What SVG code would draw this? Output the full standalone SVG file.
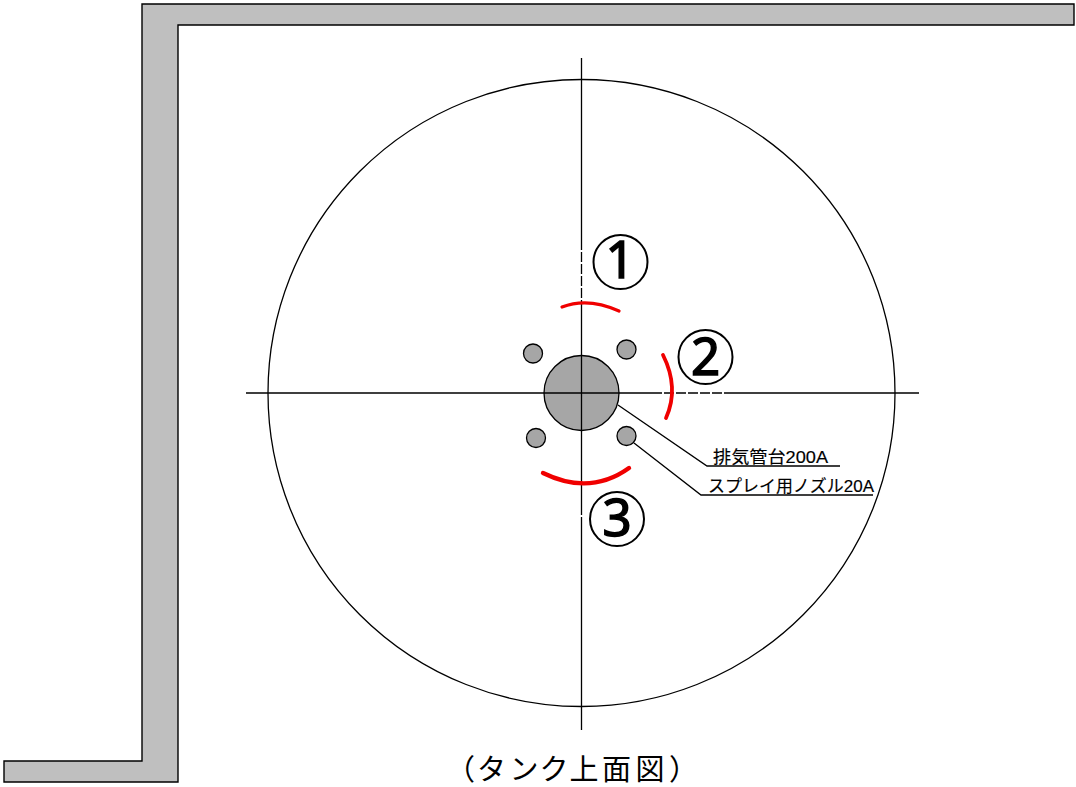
<svg xmlns="http://www.w3.org/2000/svg" width="1076" height="787" viewBox="0 0 1076 787">
<style>
.ln{fill:none;stroke:#000;stroke-width:1.3}
.pipe{fill:#a6a6a6;stroke:#000;stroke-width:1.3}
.red{fill:none;stroke:#f00000;stroke-width:3.8;stroke-linecap:round}
.dash{fill:none;stroke:#000;stroke-width:1.3;stroke-dasharray:10 2}
.ring{fill:none;stroke:#000;stroke-width:2}
.t{font-family:"Liberation Sans","Noto Sans CJK JP",sans-serif;fill:#000;stroke:#000;stroke-width:.15}
.cap{font-family:"Noto Sans CJK JP",sans-serif;font-size:29px;fill:#000}
.num{font-family:"Noto Sans",sans-serif;font-size:51px;text-anchor:middle;fill:#000;stroke:#000;stroke-width:1.5}
</style>
<rect width="1076" height="787" fill="#fff"/>
<g id="wall"><path d="M1074 4H142V761H4V782H178V25H1074Z" fill="#bfbfbf" stroke="#000" stroke-width="1.4"/></g>
<g id="tank"><circle cx="581.5" cy="393" r="313.5" fill="none" stroke="#000" stroke-width="1.3"/></g>
<g id="exhaust"><circle class="pipe" cx="581.5" cy="393" r="37.5"/></g>
<g id="nozzle-1"><circle class="pipe" cx="533" cy="353.5" r="9.5"/></g>
<g id="nozzle-2"><circle class="pipe" cx="626.5" cy="349.5" r="9.5"/></g>
<g id="nozzle-3"><circle class="pipe" cx="536" cy="438" r="9.5"/></g>
<g id="nozzle-4"><circle class="pipe" cx="626.5" cy="436" r="9.5"/></g>
<g id="connectors">
<path class="ln" d="M581.5 58V240M581.5 305V505M581.5 520V730"/>
<path class="ln" d="M246 393H652M725 393H919"/>
<path class="dash" d="M581.5 240V305M581.5 505V520M652 393H725"/>
<path class="ln" d="M618 405L707 466H840"/>
<path class="ln" d="M634 443L701 495H873"/>
<path class="red" d="M562 307Q588 297 619 311" style="stroke-width:3.2"/>
<path class="red" d="M663 355Q679.5 388 666 418"/>
<path class="red" d="M543 473Q590 496 629 468" style="stroke-width:4.4"/>
</g>
<g id="label-1"><circle class="ring" cx="620.5" cy="262" r="27"/><text class="num" x="620" y="278">1</text></g>
<g id="label-2"><circle class="ring" cx="705.5" cy="357" r="27"/><text class="num" x="705.5" y="374.5">2</text></g>
<g id="label-3"><circle class="ring" cx="617" cy="519" r="27"/><text class="num" x="617" y="536">3</text></g>
<g id="label-exhaust"><text class="t" x="713" y="463" font-size="17" textLength="115" lengthAdjust="spacingAndGlyphs">排気管台200A</text></g>
<g id="label-spray"><text class="t" x="708" y="492" font-size="17" textLength="166" lengthAdjust="spacingAndGlyphs">スプレイ用ノズル20A</text></g>
<g id="caption"><text class="cap" x="446 477 509.5 539.5 569.5 602 635.5 669" y="780">（タンク上面図）</text></g>
</svg>
